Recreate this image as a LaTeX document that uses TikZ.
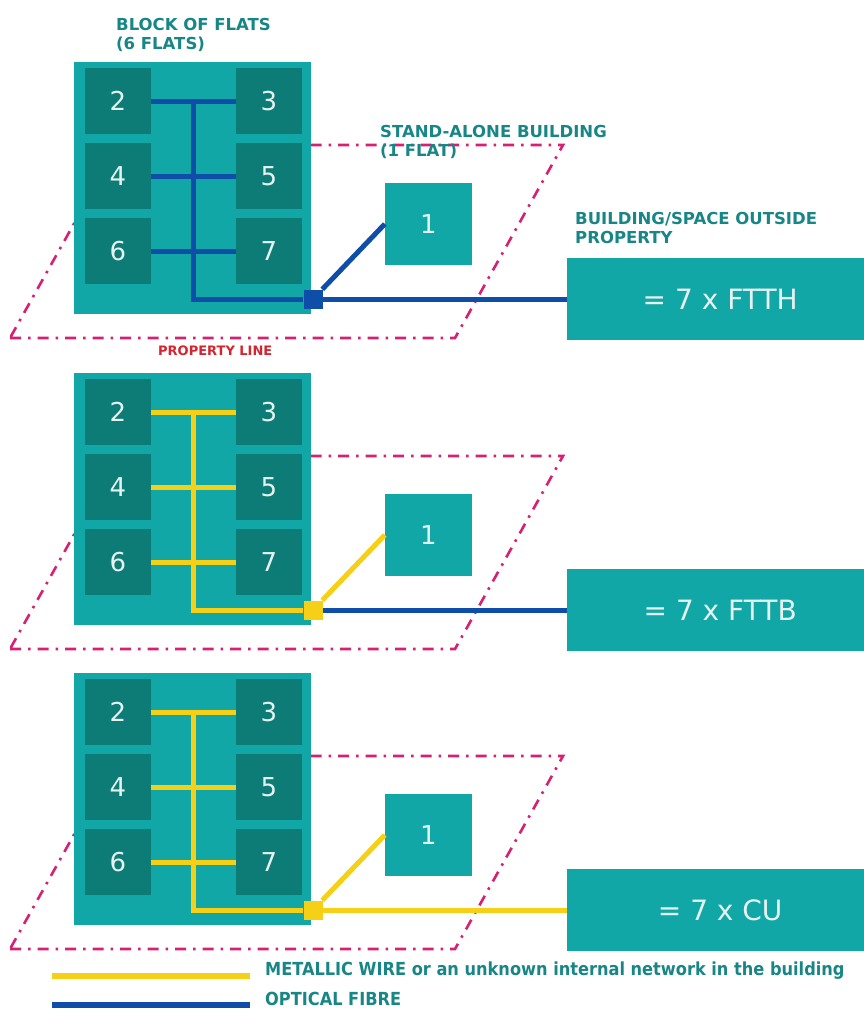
\documentclass[tikz,border=0pt]{standalone}
\usepackage{fontspec}
\setmainfont{DejaVu Sans}
\newfontfamily\condfont{DejaVu Sans Condensed}
\definecolor{blockc}{RGB}{17,167,167}
\definecolor{flatc}{RGB}{14,124,118}
\definecolor{fibre}{RGB}{14,78,168}
\definecolor{metal}{RGB}{246,208,22}
\definecolor{propc}{RGB}{214,32,112}
\definecolor{headc}{RGB}{24,134,134}
\definecolor{redc}{RGB}{212,36,48}
\definecolor{digitc}{RGB}{230,242,240}
\tikzset{
  block/.style={fill=blockc, draw=none, minimum width=237pt, minimum height=252pt, inner sep=0},
  flat/.style={fill=flatc, draw=none, minimum width=66pt, minimum height=66pt, inner sep=0, text=digitc, font=\fontsize{26}{30}\selectfont},
  single/.style={fill=blockc, draw=none, minimum width=87pt, minimum height=82pt, inner sep=0, text=digitc, font=\fontsize{26}{30}\selectfont},
  extbox/.style={fill=blockc, draw=none, minimum width=300pt, minimum height=82pt, inner sep=0, text=digitc, font=\fontsize{28}{32}\selectfont},
  junction/.style={fill=#1, draw=none, minimum size=19pt, inner sep=0},
  wire/.style={draw=#1, line width=5pt},
  propline/.style={draw=propc, line width=2.6pt, dash pattern=on 11pt off 7pt on 2.5pt off 7pt},
  header/.style={text=headc, font=\fontsize{16.5}{19}\selectfont\bfseries, align=left, inner sep=0, anchor=north west},
  legendtext/.style={text=headc, font=\condfont\fontsize{18}{20}\selectfont\bfseries, inner sep=0, anchor=base west},
}
\newcommand\drawpanel[5]{%
\begin{scope}[yshift=-#1pt]
  \draw[propline] (10,338) -- (455,338) -- (563,145) -- (118,145) -- cycle;
  \node[block] (blk#2) at (192.5,188) {};
  \node[flat] (fa#2) at (118,101) {2};
  \node[flat] (fb#2) at (269,101) {3};
  \node[flat] (fc#2) at (118,176) {4};
  \node[flat] (fd#2) at (269,176) {5};
  \node[flat] (fe#2) at (118,251) {6};
  \node[flat] (ff#2) at (269,251) {7};
  \node[single] (one#2) at (428.5,224) {1};
  \node[extbox, anchor=west] (ext#2) at (567,299) {\hspace{6pt}#5};
  \node[junction=#3] (j#2) at (313,299) {};
  \coordinate (top#2) at (193,101);
  \draw[wire=#3] (fa#2.east) -- (fb#2.west);
  \draw[wire=#3] (fc#2.east) -- (fd#2.west);
  \draw[wire=#3] (fe#2.east) -- (ff#2.west);
  \draw[wire=#3] (top#2) |- (j#2.west);
  \draw[wire=#3] (j#2) -- (one#2.west);
  \draw[wire=#4] (j#2) -- (ext#2.west);
\end{scope}}
\begin{document}
\begin{tikzpicture}[x=1pt,y=-1pt]
\useasboundingbox (0,0) rectangle (864,1010);
\drawpanel{0}{A}{fibre}{fibre}{= 7 x FTTH}
\drawpanel{311}{B}{metal}{fibre}{= 7 x FTTB}
\drawpanel{611}{C}{metal}{metal}{= 7 x CU}
\node[header] (hblock) at (116,18) {BLOCK OF FLATS\\(6 FLATS)};
\node[header] (hstand) at (380,125) {STAND-ALONE BUILDING\\(1 FLAT)};
\node[header] (hout) at (575,212) {BUILDING/SPACE OUTSIDE\\PROPERTY};
\node[text=redc, font=\fontsize{13}{15}\selectfont\bfseries, inner sep=0, anchor=west] (hprop) at (158,351) {PROPERTY LINE};
\coordinate (ly1) at (52,976);
\coordinate (ly2) at (250,976);
\coordinate (lb1) at (52,1005);
\coordinate (lb2) at (250,1005);
\draw[draw=metal, line width=6pt] (ly1) -- (ly2);
\draw[draw=fibre, line width=6pt] (lb1) -- (lb2);
\node[legendtext] (lmetal) at (265,975) {METALLIC WIRE or an unknown internal network in the building};
\node[legendtext] (lfibre) at (265,1005) {OPTICAL FIBRE};
\end{tikzpicture}
\end{document}
